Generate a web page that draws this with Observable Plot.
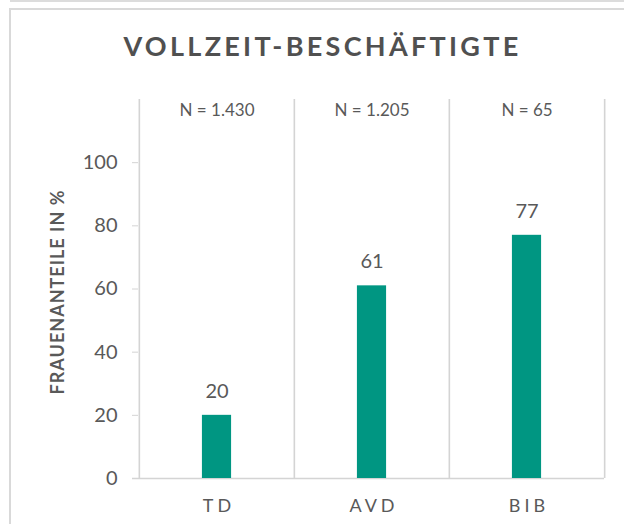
<!DOCTYPE html>
<html>
<head>
<meta charset="utf-8">
<script src="https://cdn.jsdelivr.net/npm/d3@7"></script>
<script src="https://cdn.jsdelivr.net/npm/@observablehq/plot@0.6"></script>
<style>
  html, body { margin: 0; padding: 0; background: #fff; }
  #page { position: relative; width: 624px; height: 524px; overflow: hidden; background: #fff; }
  #topband { position: absolute; left: 10px; top: 0; width: 620px; height: 2px; background: #dcdcdc; }
  #frame { position: absolute; left: 9px; top: 8px; width: 700px; height: 600px; border-left: 2px solid #d9d9d9; border-top: 2px solid #d9d9d9; }
  #title { position: absolute; left: 0; top: 32px; width: 645px; text-align: center;
           font-family: Lato, "Open Sans", sans-serif; font-weight: 700; font-size: 27px; line-height: 27px;
           letter-spacing: 3.3px; color: #505050; white-space: nowrap; }
  #chart { position: absolute; left: 0; top: 90px; }
  #chart g[aria-label="y-axis tick"] { color: #d4d4d4; }
  #chart g[aria-label="y-axis"] .tick line { stroke: #d4d4d4; }
</style>
</head>
<body>
<div id="page">
  <div id="topband"></div>
  <div id="frame"></div>
  <div id="title">VOLLZEIT-BESCHÄFTIGTE</div>
  <div id="chart"></div>
</div>
<script>
const categories = ["TD", "AVD", "BIB"];
const values = [20, 61, 77];
const nLabels = ["N = 1.430", "N = 1.205", "N = 65"];
const yTicks = [0, 20, 40, 60, 80, 100];
const yLabel = "FRAUENANTEILE IN %";

const data = categories.map((c, i) => ({cat: c, val: values[i], n: nLabels[i]}));

const W = 624, H = 434;
const mL = 138, mR = 20, mT = 9, mB = 46;
const step = (W - mL - mR) / categories.length;
const barW = 29.5;
const lineColor = "#d4d4d4";
const textColor = "#595959";

const svg = Plot.plot({
  width: W,
  height: H,
  marginLeft: mL,
  marginRight: mR,
  marginTop: mT,
  marginBottom: mB,
  style: {fontFamily: "Lato, 'Open Sans', sans-serif", fontSize: "20px", color: textColor, background: "transparent", overflow: "visible"},
  x: {type: "band", domain: categories, padding: 0, axis: null},
  y: {domain: [0, 120], ticks: yTicks, tickSize: 6, tickPadding: 15, label: null, tickFormat: d => String(d)},
  marks: [
    Plot.ruleX(categories, {x: d => d, dx: -step / 2, stroke: lineColor, strokeWidth: 1.6}),
    Plot.ruleX(categories.slice(-1), {x: d => d, dx: step / 2, stroke: lineColor, strokeWidth: 1.6}),
    Plot.ruleY([0], {stroke: lineColor, strokeWidth: 1.6, insetLeft: -6}),
    Plot.barY(data, {x: "cat", y: "val", fill: "#009682", insetLeft: (step - barW) / 2, insetRight: (step - barW) / 2}),
    Plot.text(data, {x: "cat", y: "val", text: d => String(d.val), dy: -24, fontSize: 20, fill: textColor, lineAnchor: "middle", textAnchor: "middle"}),
    Plot.text(data, {x: "cat", text: "n", frameAnchor: "top", dy: 11, fontSize: 17, fill: textColor, lineAnchor: "middle", textAnchor: "middle"}),
    Plot.text(data, {x: "cat", text: "cat", frameAnchor: "bottom", dy: 28, dx: 2, fontSize: 18, fill: textColor, lineAnchor: "middle", textAnchor: "middle"}),
    Plot.text([yLabel], {text: d => d, frameAnchor: "left", dx: -80, dy: 3, rotate: -90, fontSize: 18, fontWeight: "bold", fill: textColor, lineAnchor: "middle", textAnchor: "middle"})
  ]
});

// letter spacing for the category labels and the y label
svg.querySelectorAll("text").forEach(t => {
  if (categories.includes(t.textContent)) t.setAttribute("letter-spacing", "4px");
  if (t.textContent === yLabel) t.setAttribute("letter-spacing", "1px");
});

document.getElementById("chart").appendChild(svg);
</script>
</body>
</html>
